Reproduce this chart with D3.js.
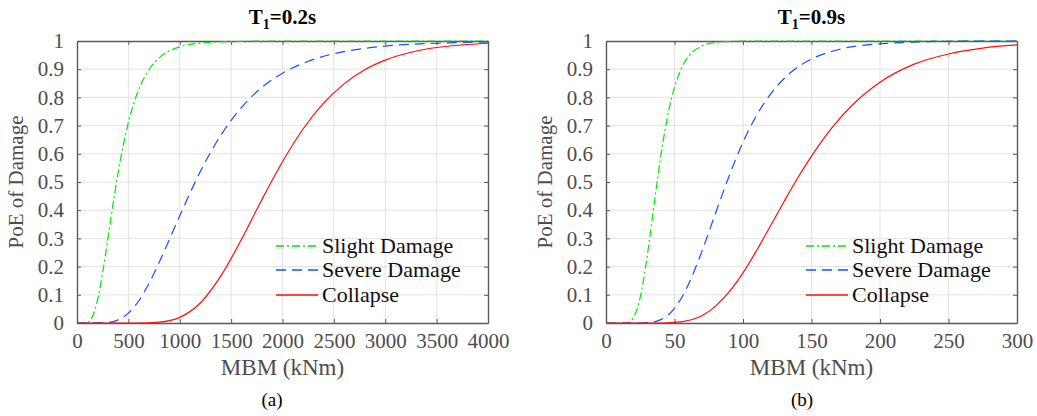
<!DOCTYPE html>
<html lang="en">
<head>
    <title>PoE of Damage - fragility curves</title>
    <meta charset="UTF-8">
    <script src="https://cdn.jsdelivr.net/npm/d3@7"></script>
    <style>
        body { margin: 0; background: #fff; }
        svg text { font-family: "Liberation Serif", "Times New Roman", "DejaVu Serif", serif; }
        .tick text { fill: #4d4d4d; font-size: 21px; }
        .tick line { stroke: #5a5a5a; }
        .domain { stroke: #5a5a5a; stroke-width: 1.4; }
        .grid line { stroke: #e3e3e3; stroke-width: 1; }
    </style>
</head>
<body>
<div id="chart"></div>
<script>
    // y ticks (shared)
    var poeTicks = [0, 0.1, 0.2, 0.3, 0.4, 0.5, 0.6, 0.7, 0.8, 0.9, 1];

    // (a) T1 = 0.2s
    var mbmTicksA = [0, 500, 1000, 1500, 2000, 2500, 3000, 3500, 4000];
    var slightA_x = [0, 100, 150, 200, 250, 300, 350, 400, 450, 500, 600, 700, 800, 1000, 1250, 1500, 2000, 4000];
    var slightA_p = [0, 0.002, 0.022, 0.082, 0.179, 0.298, 0.42, 0.532, 0.63, 0.711, 0.827, 0.898, 0.94, 0.979, 0.994, 0.998, 1, 1];
    var severeA_x = [0, 300, 400, 500, 600, 700, 800, 900, 1000, 1100, 1200, 1400, 1600, 1800, 2000, 2250, 2500, 2750, 3000, 3500, 4000];
    var severeA_p = [0, 0.002, 0.011, 0.035, 0.078, 0.14, 0.215, 0.297, 0.38, 0.461, 0.537, 0.666, 0.764, 0.836, 0.886, 0.928, 0.955, 0.971, 0.982, 0.992, 0.997];
    var collapseA_x = [0, 600, 800, 1000, 1200, 1400, 1600, 1800, 2000, 2200, 2400, 2600, 2800, 3000, 3250, 3500, 3750, 4000];
    var collapseA_p = [0, 0, 0.003, 0.02, 0.071, 0.167, 0.296, 0.438, 0.572, 0.688, 0.78, 0.848, 0.898, 0.932, 0.96, 0.977, 0.986, 0.992];

    // (b) T1 = 0.9s
    var mbmTicksB = [0, 50, 100, 150, 200, 250, 300];
    var slightB_x = [0, 12, 16, 20, 24, 28, 32, 36, 40, 44, 48, 55, 62, 70, 80, 90, 100, 120, 300];
    var slightB_p = [0, 0, 0.002, 0.019, 0.071, 0.17, 0.305, 0.453, 0.592, 0.709, 0.8, 0.902, 0.955, 0.982, 0.995, 0.998, 1, 1, 1];
    var severeB_x = [0, 25, 30, 35, 40, 45, 50, 55, 60, 70, 80, 90, 100, 110, 120, 135, 150, 170, 200, 250, 300];
    var severeB_p = [0, 0, 0.001, 0.004, 0.012, 0.027, 0.052, 0.088, 0.135, 0.254, 0.39, 0.523, 0.641, 0.737, 0.811, 0.889, 0.936, 0.97, 0.99, 0.999, 1];
    var collapseB_x = [0, 40, 50, 60, 70, 80, 90, 100, 110, 120, 130, 140, 150, 165, 180, 200, 225, 250, 275, 300];
    var collapseB_p = [0, 0, 0.002, 0.009, 0.026, 0.06, 0.111, 0.178, 0.258, 0.344, 0.431, 0.515, 0.592, 0.693, 0.774, 0.854, 0.918, 0.954, 0.975, 0.986];

    var legendNames = ['Slight Damage', 'Severe Damage', 'Collapse'];

    var styles = [
        {color: '#00e600', dash: '8,3,2,3'},
        {color: '#1450ff', dash: '10,6'},
        {color: '#ff0d0d', dash: 'none'}
    ];

    var W = 1037, H = 416;
    var plotTop = 41, plotBottom = 323;

    var svg = d3.select('#chart').append('svg')
        .attr('width', W)
        .attr('height', H);

    function zip(xs, ps) {
        return xs.map(function (v, i) { return [v, ps[i]]; });
    }

    function panel(opt) {
        var x = d3.scaleLinear().domain([0, opt.xmax]).range([opt.left, opt.right]);
        var y = d3.scaleLinear().domain([0, 1]).range([plotBottom, plotTop]);
        var g = svg.append('g');

        // grid
        var grid = g.append('g').attr('class', 'grid');
        grid.selectAll('line.gx').data(opt.xticks.slice(1, -1)).join('line')
            .attr('class', 'gx')
            .attr('x1', d => x(d)).attr('x2', d => x(d))
            .attr('y1', plotTop).attr('y2', plotBottom);
        grid.selectAll('line.gy').data(poeTicks.slice(1, -1)).join('line')
            .attr('class', 'gy')
            .attr('x1', opt.left).attr('x2', opt.right)
            .attr('y1', d => y(d)).attr('y2', d => y(d));

        // axes, ticks inward on all four sides
        g.append('g').attr('transform', `translate(0,${plotBottom})`)
            .call(d3.axisBottom(x).tickValues(opt.xticks).tickSizeInner(-4).tickSizeOuter(0).tickPadding(10)
                .tickFormat(d3.format('d')));
        g.append('g').attr('transform', `translate(0,${plotTop})`)
            .call(d3.axisTop(x).tickValues(opt.xticks).tickSizeInner(-4).tickSizeOuter(0).tickFormat(''));
        g.append('g').attr('transform', `translate(${opt.left},0)`)
            .call(d3.axisLeft(y).tickValues(poeTicks).tickSizeInner(-4).tickSizeOuter(0).tickPadding(13)
                .tickFormat(d => d3.format('~g')(d)));
        g.append('g').attr('transform', `translate(${opt.right},0)`)
            .call(d3.axisRight(y).tickValues(poeTicks).tickSizeInner(-4).tickSizeOuter(0).tickFormat(''));

        // curves
        var line = d3.line()
            .x(d => x(d[0]))
            .y(d => y(d[1]))
            .curve(d3.curveMonotoneX);

        opt.series.forEach(function (s, i) {
            g.append('path')
                .datum(s)
                .attr('fill', 'none')
                .attr('stroke', styles[i].color)
                .attr('stroke-width', 1.2)
                .attr('stroke-dasharray', styles[i].dash)
                .attr('d', line);
        });

        // legend
        var leg = g.append('g');
        legendNames.forEach(function (name, i) {
            var ly = [246, 270, 295][i];
            leg.append('line')
                .attr('x1', opt.legX).attr('x2', opt.legX + 42)
                .attr('y1', ly).attr('y2', ly)
                .attr('stroke', styles[i].color)
                .attr('stroke-width', 1.4)
                .attr('stroke-dasharray', styles[i].dash);
            leg.append('text')
                .attr('x', opt.legX + 46).attr('y', ly + 7)
                .attr('font-size', 22)
                .attr('fill', '#111')
                .text(name);
        });

        // title with subscript
        var cx = (opt.left + opt.right) / 2;
        var t = g.append('text')
            .attr('x', cx).attr('y', 24)
            .attr('text-anchor', 'middle')
            .attr('font-weight', 'bold')
            .attr('font-size', 21)
            .attr('fill', '#000');
        t.append('tspan').text('T');
        t.append('tspan').attr('dy', 5).attr('font-size', 14).text('1');
        t.append('tspan').attr('dy', -5).text(opt.title);

        // axis labels
        g.append('text')
            .attr('x', cx).attr('y', 375)
            .attr('text-anchor', 'middle')
            .attr('font-size', 23)
            .attr('fill', '#4d4d4d')
            .text('MBM (kNm)');
        g.append('text')
            .attr('transform', `translate(${opt.left - 54},${(plotTop + plotBottom) / 2}) rotate(-90)`)
            .attr('text-anchor', 'middle')
            .attr('font-size', 21)
            .attr('fill', '#4d4d4d')
            .text('PoE of Damage');

        // caption
        g.append('text')
            .attr('x', opt.capX).attr('y', 406)
            .attr('text-anchor', 'middle')
            .attr('font-size', 19)
            .attr('fill', '#000')
            .text(opt.caption);
    }

    panel({
        left: 77, right: 488, xmax: 4000, xticks: mbmTicksA,
        series: [zip(slightA_x, slightA_p), zip(severeA_x, severeA_p), zip(collapseA_x, collapseA_p)],
        legX: 276, title: '=0.2s', caption: '(a)', capX: 272
    });

    panel({
        left: 606, right: 1017, xmax: 300, xticks: mbmTicksB,
        series: [zip(slightB_x, slightB_p), zip(severeB_x, severeB_p), zip(collapseB_x, collapseB_p)],
        legX: 806, title: '=0.9s', caption: '(b)', capX: 802
    });
</script>
</body>
</html>
